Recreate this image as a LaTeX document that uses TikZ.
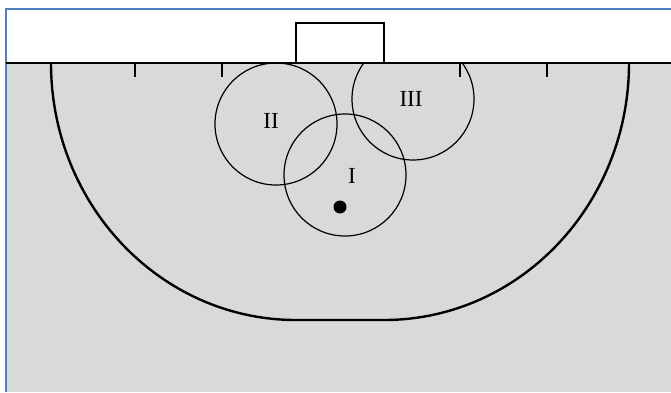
\documentclass[tikz,border=0pt]{standalone}
\usepackage{fontspec}
\setmainfont{Liberation Serif}
\usetikzlibrary{positioning}
\definecolor{frameblue}{RGB}{79,129,189}
\definecolor{courtgrey}{RGB}{217,217,217}
\tikzset{
    zone/.style={circle,draw,line width=1.2pt,minimum size=122pt,inner sep=0pt},
    zonelabel/.style={font=\fontsize{23}{23}\selectfont,inner sep=0pt},
    tick/.style={line width=1.5pt},
    court/.style={line width=2.4pt}
}
\begin{document}
\begin{tikzpicture}[x=1pt,y=1pt]
    \useasboundingbox (0,0) rectangle (671,392);
    % court area below the goal line
    \fill[courtgrey] (6,329) rectangle (671,0);
    \draw[frameblue,line width=2pt] (6,0) -- (6,383) -- (671,383);
    % goal
    \coordinate (lpost) at (296,329);
    \coordinate (rpost) at (384,329);
    \draw[line width=2pt] (lpost) -- (296,369) -- (384,369) -- (rpost);
    \draw[line width=2pt] (6,329) -- (671,329);
    % goal area line
    \draw[court] (51,329) arc[start angle=180,end angle=270,x radius=245,y radius=257]
        -- (384,72) arc[start angle=270,end angle=360,x radius=245,y radius=257];
    % marks on the goal line
    \foreach \tx in {135,222,460,547}
        \draw[tick] (\tx,329) -- (\tx,315);
    % the three zones
    \begin{scope}
        \clip (6,329) rectangle (671,0);
        \node[zone] (two) at (276,268) {};
        \node[zone] (three) at (413,293) {};
        \node[zone] (one) at (345,217) {};
    \end{scope}
    \node[zonelabel] (ltwo) at (271,271) {II};
    \node[zonelabel] (lthree) at (411,293) {III};
    \node[zonelabel] (lone) at (352,216) {I};
    % ball
    \fill (340,185) circle[radius=6.5];
\end{tikzpicture}
\end{document}
